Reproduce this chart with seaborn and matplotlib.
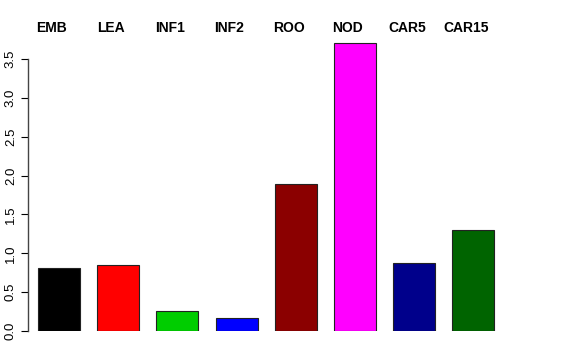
import matplotlib
matplotlib.use("Agg")
import matplotlib.pyplot as plt
import seaborn as sns
import pandas as pd

categories = ["EMB", "LEA", "INF1", "INF2", "ROO", "NOD", "CAR5", "CAR15"]
values = [0.81, 0.85, 0.26, 0.17, 1.89, 3.71, 0.875, 1.30]
colors = ["#000000", "#FF0000", "#00CD00", "#0000FF", "#8B0000", "#FF00FF", "#00008B", "#006400"]
yticks = [0.0, 0.5, 1.0, 1.5, 2.0, 2.5, 3.0, 3.5]

sns.set_style("white")
plt.rcParams["font.family"] = ["Liberation Sans", "DejaVu Sans"]
plt.rcParams["text.color"] = "black"
plt.rcParams["ytick.color"] = "black"
plt.rcParams["ytick.labelcolor"] = "black"

df = pd.DataFrame({"cat": categories, "val": values})

W, H = 576, 360
fig = plt.figure(figsize=(W / 100, H / 100), dpi=100)
left_px, right_px, bottom_px, top_px = 28, 548, 331, 40
ax = fig.add_axes([left_px / W, (H - bottom_px) / H, (right_px - left_px) / W, (bottom_px - top_px) / H])

sns.barplot(data=df, x="cat", y="val", hue="cat", order=categories, hue_order=categories,
            palette=colors, legend=False, width=0.71, edgecolor="#222222", linewidth=0.8,
            saturation=1, ax=ax)

ppu_x = 59.2
ax.set_xlim((left_px - 59) / ppu_x, (right_px - 59) / ppu_x)
ppu_y = 272 / 3.5
ax.set_ylim(0, (bottom_px - top_px) / ppu_y)

for s in ["top", "right", "bottom"]:
    ax.spines[s].set_visible(False)
ax.spines["left"].set_bounds(0, 3.5)
ax.spines["left"].set_color("#444444")
ax.spines["left"].set_linewidth(1.0)
ax.set_xticks([])
ax.set_yticks(yticks)
ax.set_yticklabels([f"{t:.1f}" for t in yticks], rotation=90, va="center", fontsize=9.5,
                   color="black")
ax.tick_params(axis="y", left=True, length=5, width=0.8, color="black", pad=3)
ax.set_xlabel("")
ax.set_ylabel("")

label_y = (bottom_px - 28) / ppu_y
for i, c in enumerate(categories):
    ax.text(i - 0.12, label_y, c, ha="center", va="center", fontsize=10,
            fontweight="bold", color="black", clip_on=False)

fig.savefig("out.png", dpi=100)
